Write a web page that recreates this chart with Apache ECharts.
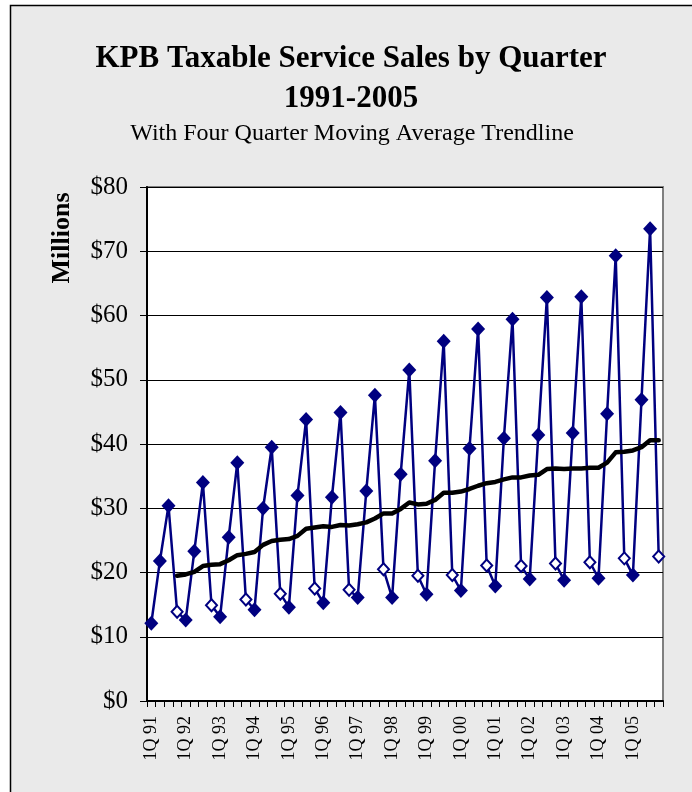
<!DOCTYPE html>
<html>
<head>
<meta charset="utf-8">
<script src="https://cdn.jsdelivr.net/npm/echarts@6/dist/echarts.min.js"></script>
<style>
html,body{margin:0;padding:0;background:#fff;}
#chart{width:692px;height:792px;}
</style>
</head>
<body>
<div id="chart"></div>
<script>
// Years and quarters (x-axis categories)
var years = ['91','92','93','94','95','96','97','98','99','00','01','02','03','04','05'];
var quarters = ['1Q','2Q','3Q','4Q'];

// Quarterly taxable service sales ($ millions), 1Q91 .. 4Q05
var sales = [
  12.1, 21.8, 30.4, 13.9,
  12.6, 23.3, 34.0, 14.9,
  13.1, 25.5, 37.1, 15.8,
  14.2, 30.0, 39.5, 16.7,
  14.6, 32.0, 43.8, 17.5,
  15.3, 31.7, 44.9, 17.3,
  16.1, 32.7, 47.6, 20.5,
  16.1, 35.3, 51.5, 19.5,
  16.6, 37.4, 56.0, 19.6,
  17.2, 39.3, 57.9, 21.1,
  17.9, 40.9, 59.4, 21.0,
  19.0, 41.4, 62.8, 21.4,
  18.8, 41.7, 62.9, 21.6,
  19.1, 44.7, 69.3, 22.2,
  19.6, 46.9, 73.5, 22.5
];

// Four quarter moving average trendline (starts at 4Q91)
var movingAvg = [
  null, null, null, 19.5,
  19.7, 20.1, 21.0, 21.2,
  21.3, 21.9, 22.7, 22.9,
  23.2, 24.3, 24.9, 25.1,
  25.2, 25.7, 26.8, 27.0,
  27.2, 27.1, 27.4, 27.3,
  27.5, 27.8, 28.4, 29.2,
  29.2, 29.9, 30.9, 30.6,
  30.7, 31.3, 32.4, 32.4,
  32.6, 33.0, 33.5, 33.9,
  34.1, 34.5, 34.8, 34.8,
  35.1, 35.2, 36.1, 36.2,
  36.1, 36.2, 36.2, 36.3,
  36.3, 37.1, 38.7, 38.8,
  39.0, 39.5, 40.6, 40.6
];

// Y-axis ticks
var yTicks = { min: 0, max: 80, step: 10 };

var categories = [];
years.forEach(function (y) {
  quarters.forEach(function (q) { categories.push(q + ' ' + y); });
});

var NAVY = '#000080';
var FONT = '"Liberation Serif", "Times New Roman", serif';

var salesData = sales.map(function (v, i) {
  if (categories[i].indexOf('4Q') === 0) {
    return { value: v, itemStyle: { color: '#ffffff', borderColor: NAVY, borderWidth: 2 }, symbolSize: [11, 12] };
  }
  return v;
});

var chart = echarts.init(document.getElementById('chart'), null, { renderer: 'canvas' });

chart.setOption({
  backgroundColor: '#ffffff',
  animation: false,
  graphic: [
    {
      type: 'rect', z: -100, silent: true,
      shape: { x: 10.5, y: 5.5, width: 720, height: 820 },
      style: { fill: '#eaeaea', stroke: '#000000', lineWidth: 1.5 }
    },
    {
      type: 'text', z: 10,
      x: 62, y: 238, rotation: Math.PI / 2,
      style: {
        text: 'Millions', font: 'bold 26px ' + FONT, fill: '#000',
        align: 'center', verticalAlign: 'middle'
      }
    }
  ],
  title: [
    {
      text: 'KPB Taxable Service Sales by Quarter\n1991-2005',
      left: 351, top: 39, textAlign: 'center', padding: 0,
      textStyle: { fontFamily: FONT, fontWeight: 'bold', fontSize: 31, lineHeight: 40, color: '#000' }
    },
    {
      text: 'With Four Quarter Moving Average Trendline',
      left: 352, top: 122, textAlign: 'center', padding: 0,
      textStyle: { fontFamily: FONT, fontWeight: 'normal', fontSize: 24, lineHeight: 24, color: '#000' }
    }
  ],
  grid: {
    left: 147, top: 187, right: 29, bottom: 91,
    show: true, backgroundColor: '#ffffff', borderColor: '#808080', borderWidth: 2
  },
  xAxis: {
    type: 'category',
    data: categories,
    boundaryGap: true,
    axisLine: { lineStyle: { color: '#000', width: 2 } },
    axisTick: { show: true, interval: 0, length: 6, lineStyle: { color: '#000', width: 1 } },
    axisLabel: {
      interval: 3, rotate: 90, margin: 15,
      fontFamily: FONT, fontSize: 18, color: '#000'
    },
    splitLine: { show: false }
  },
  yAxis: {
    type: 'value',
    min: yTicks.min, max: yTicks.max, interval: yTicks.step,
    axisLine: { show: true, lineStyle: { color: '#000', width: 2 } },
    axisTick: { show: true, length: 7, lineStyle: { color: '#000', width: 1 } },
    axisLabel: {
      margin: 19, fontFamily: FONT, fontSize: 25, color: '#000',
      formatter: function (v) { return '$' + v; }
    },
    splitLine: { show: true, lineStyle: { color: '#000', width: 1 } }
  },
  series: [
    {
      name: 'Sales',
      type: 'line',
      data: salesData,
      symbol: 'diamond',
      symbolSize: [14, 15],
      showAllSymbol: true,
      lineStyle: { color: NAVY, width: 2.5 },
      itemStyle: { color: NAVY, borderColor: NAVY, borderWidth: 0 },
      z: 2
    },
    {
      name: 'Four Quarter Moving Average',
      type: 'line',
      data: movingAvg,
      symbol: 'none',
      connectNulls: false,
      lineStyle: { color: '#000', width: 4.5, cap: 'round', join: 'round' },
      z: 3
    }
  ]
});
</script>
</body>
</html>
